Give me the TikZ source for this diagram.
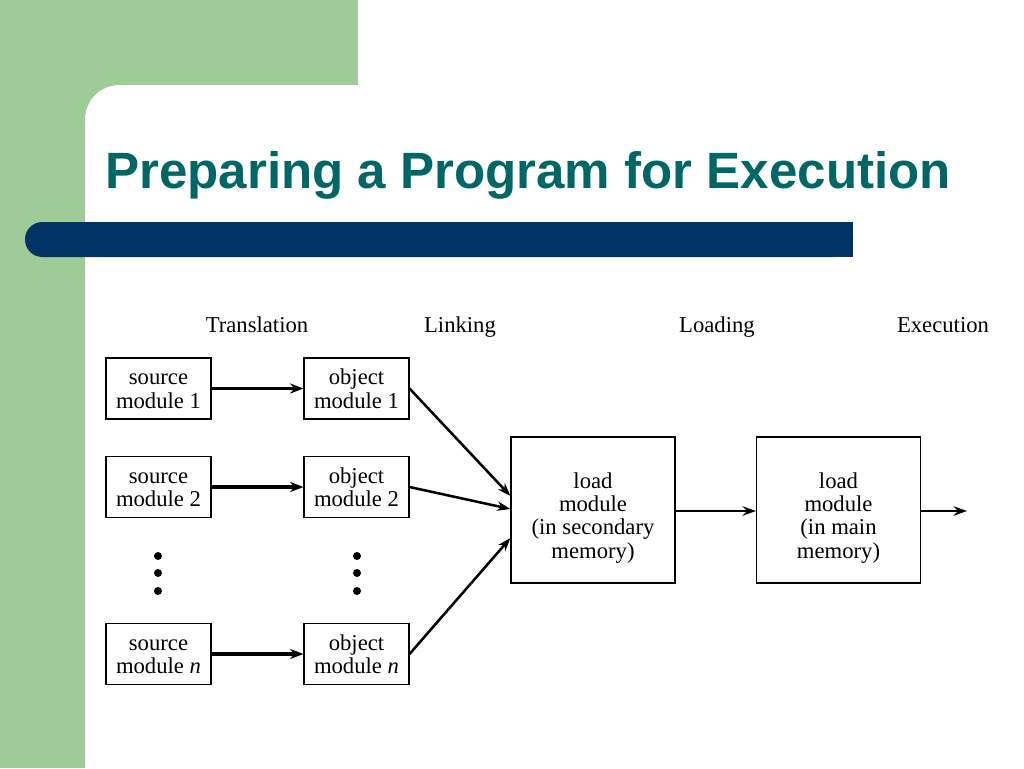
\documentclass[tikz,border=0pt]{standalone}
\usepackage{fontspec}
\setmainfont{Liberation Serif}
\newfontfamily\titlefont{Liberation Sans}
\usetikzlibrary{arrows.meta,positioning}
\definecolor{slidegreen}{HTML}{9ECB98}
\definecolor{slideteal}{HTML}{006666}
\definecolor{slideblue}{HTML}{003366}

\begin{document}
\begin{tikzpicture}[x=0.75pt, y=-0.75pt,
  modbox/.style={draw, line width=0.8pt, minimum width=78.75pt, minimum height=45.75pt, inner sep=0pt, align=center, text height=29.7pt, text depth=0pt, font=\fontsize{17}{17.5}\selectfont},
  loadbox/.style={modbox, minimum width=123pt, minimum height=109.5pt, text height=72pt, font=\fontsize{17}{17.4}\selectfont},
  phase/.style={anchor=base, font=\fontsize{17}{18}\selectfont},
  dot/.style={circle, fill=black, inner sep=0pt, minimum size=6pt},
  thick arrow/.style={-{Stealth[length=10pt, width=7.5pt]}, line width=2.8pt},
  thin arrow/.style={-{Stealth[length=10pt, width=7pt]}, line width=1.9pt}]
  \useasboundingbox (0,0) rectangle (1024,768);
  % slide background
  \fill[white] (0,0) rectangle (1024,768);
  \fill[slidegreen] (0,0) rectangle (358,768);
  \fill[white] (358,0) rectangle (1024,85);
  \fill[white, rounded corners=26pt] (85,85) rectangle (1080,840);
  \fill[slideblue, rounded corners=13pt] (25,222) rectangle (853,257);
  \fill[slideblue] (800,222) rectangle (853,257);
  \node[anchor=base west, inner sep=0pt, text=slideteal, font=\titlefont\bfseries\fontsize{38.3}{42}\selectfont] (title) at (105,188) {Preparing a Program for Execution};

  % phase labels
  \node[phase] (translation) at (257,332) {Translation};
  \node[phase] (linking) at (460,332) {Linking};
  \node[phase] (loading) at (717,332) {Loading};
  \node[phase] (execution) at (943,332) {Execution};

  % modules
  \node[modbox] (src1) at (158.5,388.5) {source\\module 1};
  \node[modbox] (src2) at (158.5,487) {source\\module 2};
  \node[modbox] (srcn) at (158.5,654) {source\\module \textit{n}};
  \node[modbox] (obj1) at (356.5,388.5) {object\\module 1};
  \node[modbox] (obj2) at (356.5,487) {object\\module 2};
  \node[modbox] (objn) at (356.5,654) {object\\module \textit{n}};
  \node[loadbox] (sec) at (593,510) {load\\module\\(in secondary\\memory)};
  \node[loadbox] (main) at (838.5,510) {load\\module\\(in main\\memory)};
  \coordinate (out) at (967,511);

  % dots
  \node[dot] (d1) at (158,556) {};
  \node[dot] (d2) at (158,573) {};
  \node[dot] (d3) at (158,591) {};
  \node[dot] (e1) at (357,556) {};
  \node[dot] (e2) at (357,573) {};
  \node[dot] (e3) at (357,591) {};

  % connectors
  \draw[thick arrow] (src1) -- (obj1);
  \draw[thick arrow] (src2) -- (obj2);
  \draw[thick arrow] (srcn) -- (objn);
  \draw[thin arrow] (obj1.east) -- (sec.west |- 0,496);
  \draw[thin arrow] (obj2.east) -- (sec.west |- 0,509);
  \draw[thin arrow] (objn.east) -- (sec.west |- 0,538);
  \draw[thin arrow] (sec.east |- 0,511) -- (main.west |- 0,511);
  \draw[thin arrow] (main.east |- 0,511) -- (out);
\end{tikzpicture}
\end{document}
